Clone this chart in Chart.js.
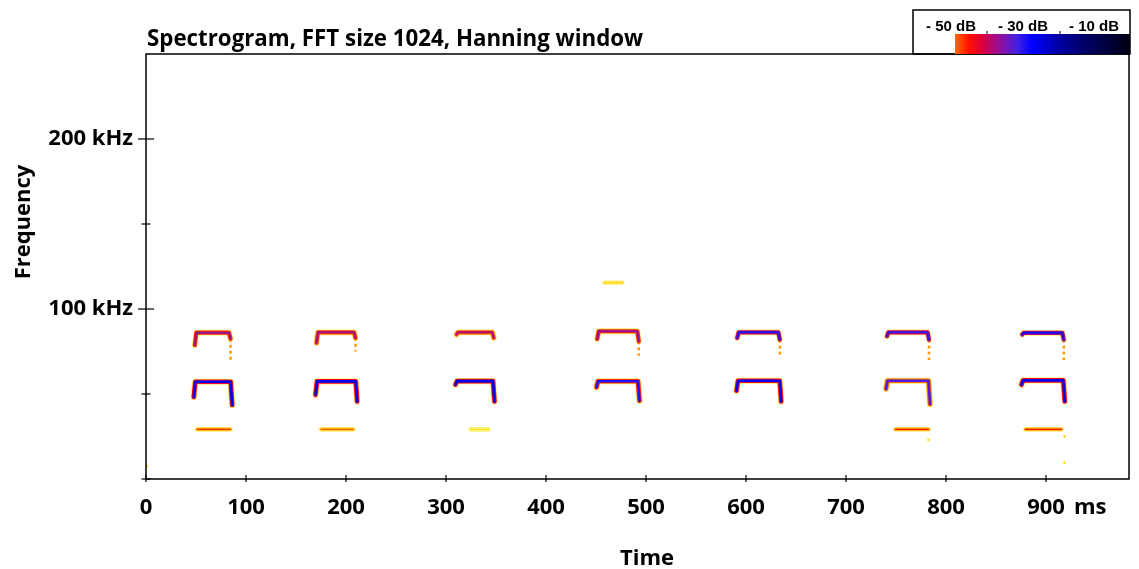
<!DOCTYPE html>
<html>
<head>
<meta charset="utf-8">
<script src="https://cdn.jsdelivr.net/npm/chart.js@4/dist/chart.umd.min.js"></script>
<style>
html,body{margin:0;padding:0;background:#fff;}
#wrap{width:1139px;height:569px;position:relative;}
</style>
</head>
<body>
<div id="wrap"><canvas id="c"></canvas></div>
<script>
// ---- axis / tick data ----
const timeMax = 983;          // ms
const freqMax = 250;          // kHz
const xTickStep = 100;
const yTickStep = 50;
const yTickLabels = {100: '100 kHz', 200: '200 kHz'};
const titleText = 'Spectrogram, FFT size 1024, Hanning window';
const xTitle = 'Time';
const yTitle = 'Frequency';
const xUnit = 'ms';
const legendLabels = ['- 50 dB', '- 30 dB', '- 10 dB'];

// ---- pulses (ms / kHz) ----
const topStart  = [48.8, 170.5, 310.5, 451.2, 591.2, 741.0, 876.2];
const topEnd    = [84.5, 209.5, 347.8, 492.8, 633.8, 783.0, 917.8];
const topFlat   = [86.1, 86.3, 86.3, 86.9, 86.3, 86.3, 86.0];
const topStartF = [78.8, 80.0, 85.0, 82.4, 83.0, 84.0, 85.0];
const topEndF   = [82.5, 83.0, 83.0, 81.0, 82.0, 82.0, 82.0];
const topTailF  = [70.0, 75.0, 83.0, 72.5, 71.4, 70.0, 70.0];
const topLevel  = [-37, -38, -39, -37, -30, -31, -29];   // dB

const midStart  = [47.8, 169.5, 309.5, 450.5, 590.5, 740.0, 875.5];
const midEnd    = [86.2, 211.2, 348.5, 493.5, 635.2, 784.0, 918.8];
const midFlat   = [57.2, 57.4, 57.6, 57.5, 57.8, 57.8, 58.0];
const midStartF = [48.2, 49.5, 55.5, 54.0, 51.9, 53.0, 55.5];
const midEndF   = [43.5, 45.6, 45.6, 46.0, 45.6, 44.0, 45.6];
const midLevel  = [-27, -27, -26, -30, -28, -33, -27];

const lowStart  = [51.2, 175.2, 324.5, null, null, 749.5, 879.5];
const lowEnd    = [84.5, 207.2, 342.8, null, null, 782.5, 915.5];
const lowF      = [29.2, 29.2, 29.2, null, null, 29.2, 29.2];
const lowLevel  = [-47, -49, -57, null, null, -46, -46];

const faintStart = [458.5];
const faintEnd   = [477.8];
const faintF     = [115.5];
const faintLevel = [-57];

const dotT = [0.8, 782.5, 918.5, 918.5];
const dotF = [7.6, 23.0, 25.0, 9.6];

// ---- colour map (dB -> colour) ----
const cmapStops = [
  [-62, [255, 250, 120]],
  [-56, [255, 205, 0]],
  [-50, [255, 106, 0]],
  [-46, [255, 16, 0]],
  [-42, [216, 0, 64]],
  [-37, [144, 16, 160]],
  [-32, [64, 32, 232]],
  [-28, [0, 0, 255]],
  [-20, [0, 0, 160]],
  [-12, [0, 0, 96]],
  [0, [0, 0, 16]]
];
function cmap(db) {
  if (db <= cmapStops[0][0]) return 'rgb(' + cmapStops[0][1].join(',') + ')';
  for (let i = 1; i < cmapStops.length; i++) {
    if (db <= cmapStops[i][0]) {
      const a = cmapStops[i - 1], b = cmapStops[i];
      const f = (db - a[0]) / (b[0] - a[0]);
      const c = a[1].map((v, k) => Math.round(v + (b[1][k] - v) * f));
      return 'rgb(' + c.join(',') + ')';
    }
  }
  return 'rgb(0,0,16)';
}

// ---- datasets ----
const datasets = [];
function addStroke(points, level, edgeDrop, wEdge, wCore, dash) {
  const common = {data: points, showLine: true, pointRadius: 0, borderDash: dash || [],
    borderCapStyle: 'round', borderJoinStyle: 'round'};
  datasets.push(Object.assign({}, common, {borderColor: 'rgba(255,215,0,0.55)', borderWidth: wEdge + 1.6, order: 4}));
  datasets.push(Object.assign({}, common, {borderColor: cmap(level - edgeDrop), borderWidth: wEdge, order: 3}));
  datasets.push(Object.assign({}, common, {borderColor: cmap(level), borderWidth: wCore, order: 2}));
}
for (let i = 0; i < topStart.length; i++) {
  addStroke([
    {x: topStart[i], y: topStartF[i]},
    {x: topStart[i] + 1.5, y: topFlat[i]},
    {x: topEnd[i] - 1.5, y: topFlat[i]},
    {x: topEnd[i], y: topEndF[i]}
  ], topLevel[i], 10, 4.2, 2);
  datasets.push({data: [{x: topEnd[i], y: topEndF[i]}, {x: topEnd[i], y: topTailF[i]}],
    showLine: true, pointRadius: 0, borderColor: cmap(-53), borderWidth: 2.5, borderDash: [3, 3], order: 5});
  addStroke([
    {x: midStart[i], y: midStartF[i]},
    {x: midStart[i] + 1.5, y: midFlat[i]},
    {x: midEnd[i] - 1.5, y: midFlat[i]},
    {x: midEnd[i], y: midEndF[i]}
  ], midLevel[i], 17, 4.6, 2.6);
  if (lowF[i] !== null) {
    addStroke([{x: lowStart[i], y: lowF[i]}, {x: lowEnd[i], y: lowF[i]}], lowLevel[i], 8, 3, 1.4,
      lowLevel[i] < -52 ? [2, 2] : []);
  }
}
for (let i = 0; i < faintStart.length; i++) {
  addStroke([{x: faintStart[i], y: faintF[i]}, {x: faintEnd[i], y: faintF[i]}], faintLevel[i], 3, 2.6, 1.4, [2, 2]);
}
datasets.push({data: dotT.map((t, i) => ({x: t, y: dotF[i]})), showLine: false, pointRadius: 1.4,
  pointBorderWidth: 0, pointBackgroundColor: cmap(-58), order: 1});

// ---- decorations plugin ----
const FONT = '"Open Sans", "DejaVu Sans", sans-serif';
const decor = {
  id: 'decor',
  afterDraw(chart) {
    const ctx = chart.ctx;
    const a = chart.chartArea;
    const xs = chart.scales.x, ys = chart.scales.y;
    ctx.save();
    // frame
    ctx.strokeStyle = '#000';
    ctx.lineWidth = 1.5;
    ctx.strokeRect(a.left, a.top, a.right - a.left, a.bottom - a.top);
    // ticks (crossing the axis lines)
    ctx.lineWidth = 1.2;
    ys.ticks.forEach(t => {
      if (t.value >= freqMax) return;
      const y = ys.getPixelForValue(t.value);
      const major = (t.value % 100 === 0) && t.value > 0;
      const len = major ? 8 : 4.5;
      ctx.beginPath(); ctx.moveTo(a.left - len, y); ctx.lineTo(a.left + len, y); ctx.stroke();
    });
    xs.ticks.forEach(t => {
      const x = xs.getPixelForValue(t.value);
      ctx.beginPath(); ctx.moveTo(x, a.bottom - 4); ctx.lineTo(x, a.bottom + 3); ctx.stroke();
    });
    // title
    ctx.fillStyle = '#000';
    ctx.font = 'bold 22.3px ' + FONT;
    ctx.textAlign = 'left'; ctx.textBaseline = 'alphabetic';
    ctx.fillText(titleText, a.left + 1, 46);
    // axis titles
    ctx.font = 'bold 22px ' + FONT;
    ctx.textAlign = 'center';
    ctx.fillText(xTitle, 647, 565);
    ctx.save();
    ctx.translate(30, 222);
    ctx.rotate(-Math.PI / 2);
    ctx.fillText(yTitle, 0, 0);
    ctx.restore();
    // unit label
    ctx.textAlign = 'left';
    ctx.textBaseline = 'middle';
    ctx.fillText(xUnit, 1074, xs.top + 16 + 13.2);
    // legend box
    ctx.lineWidth = 1.5;
    ctx.strokeStyle = '#000';
    ctx.strokeRect(913, 10, 1130 - 913, a.top - 10);
    const g = ctx.createLinearGradient(955, 0, 1130, 0);
    const lo = -50, hi = 0;
    for (let db = lo; db <= hi; db += 2) g.addColorStop((db - lo) / (hi - lo), cmap(db));
    ctx.fillStyle = g;
    ctx.fillRect(955, 34, 1130 - 955, a.top - 34);
    ctx.fillStyle = '#000';
    ctx.font = 'bold 15px "Liberation Sans", Arial, sans-serif';
    ctx.textAlign = 'center'; ctx.textBaseline = 'alphabetic';
    const lx = [951, 1023, 1094];
    legendLabels.forEach((s, i) => ctx.fillText(s, lx[i], 31));
    ctx.lineWidth = 1;
    [987, 1060].forEach(x => { ctx.beginPath(); ctx.moveTo(x, 31); ctx.lineTo(x, 34); ctx.stroke(); });
    ctx.restore();
  }
};

new Chart(document.getElementById('c'), {
  type: 'scatter',
  data: {datasets},
  options: {
    responsive: true,
    maintainAspectRatio: false,
    animation: false,
    devicePixelRatio: 1,
    layout: {padding: {left: 0, right: 10, top: 54, bottom: 0}},
    plugins: {legend: {display: false}, tooltip: {enabled: false}, title: {display: false}},
    scales: {
      x: {
        type: 'linear', min: 0, max: timeMax,
        grid: {display: false, drawTicks: false},
        border: {display: false},
        ticks: {stepSize: xTickStep, includeBounds: false, autoSkip: false, maxRotation: 0, padding: 16,
          color: '#000', font: {family: FONT, size: 22, weight: 'bold'},
          callback: v => (v % 100 === 0 ? String(v) : '')},
        afterFit: s => { s.height = 90; }
      },
      y: {
        type: 'linear', min: 0, max: freqMax,
        grid: {display: false, drawTicks: false},
        border: {display: false},
        ticks: {stepSize: yTickStep, includeBounds: false, autoSkip: false, padding: 13,
          color: '#000', font: {family: FONT, size: 22, weight: 'bold'},
          callback: v => (yTickLabels[v] || '')},
        afterFit: s => { s.width = 146; }
      }
    }
  },
  plugins: [decor]
});
</script>
</body>
</html>
